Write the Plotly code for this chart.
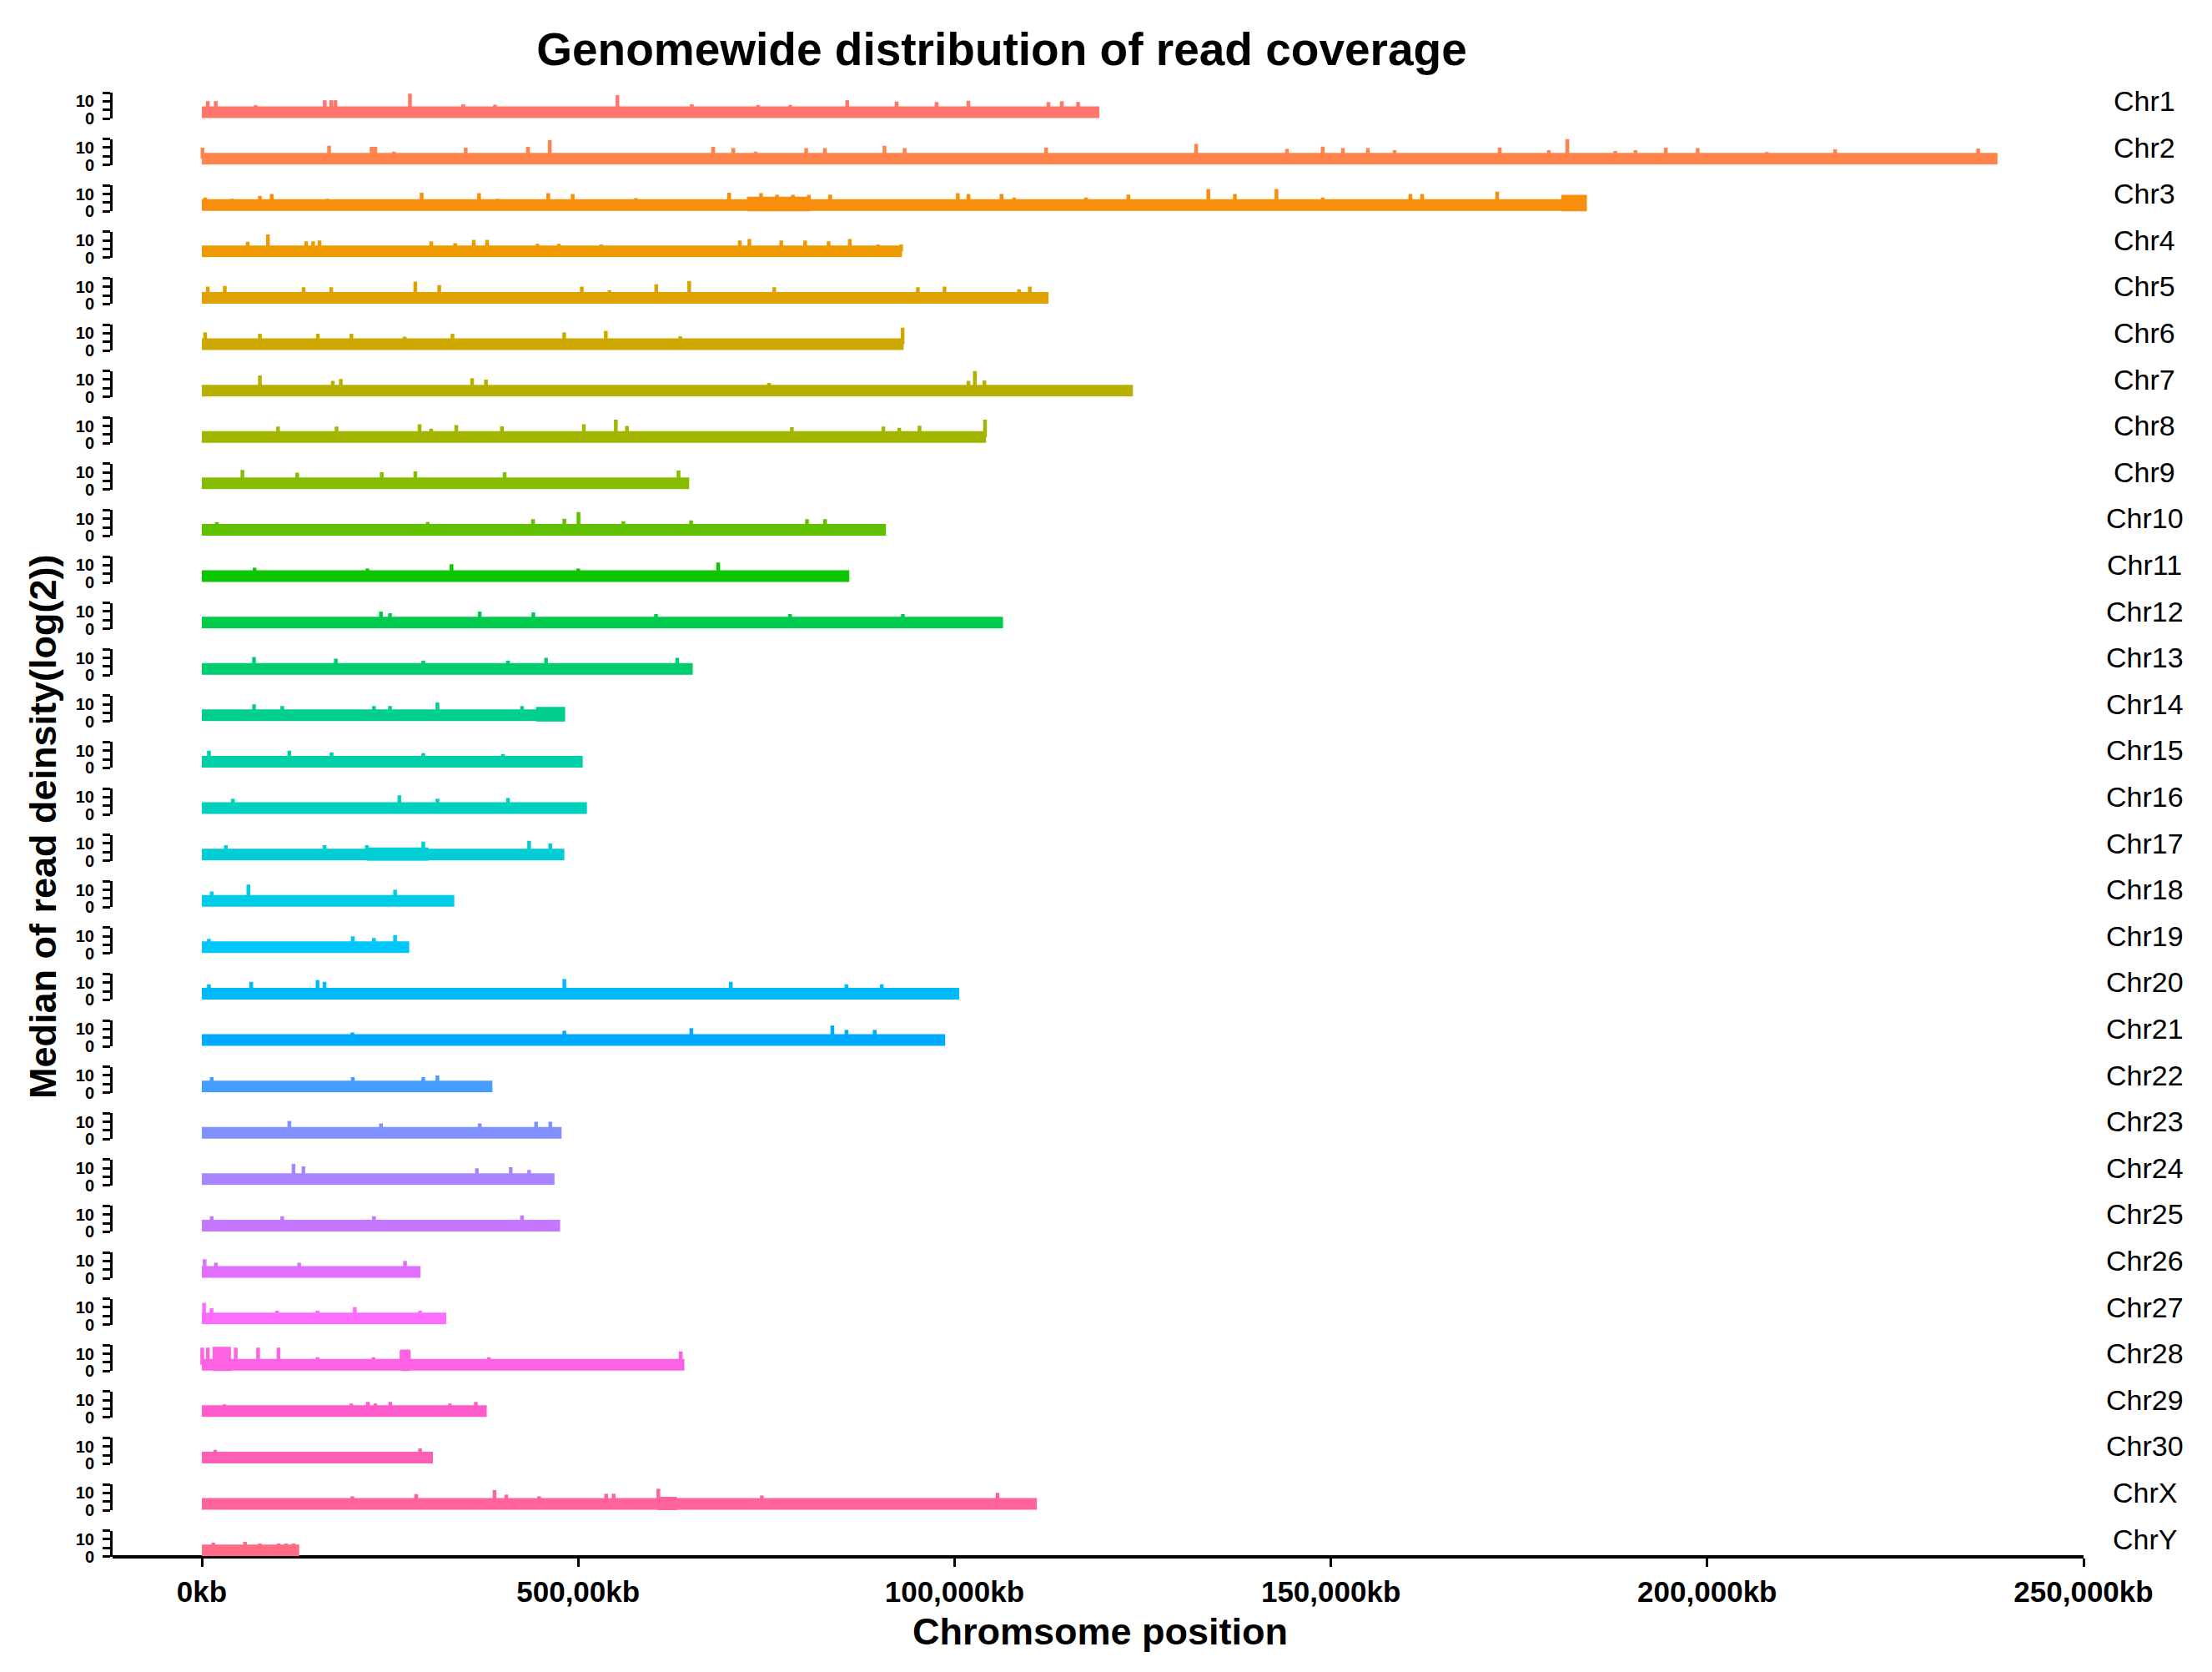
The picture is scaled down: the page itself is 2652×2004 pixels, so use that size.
import math
import colorsys
import plotly.graph_objects as go

# ---------------- data ----------------
chromosomes = ["Chr1", "Chr2", "Chr3", "Chr4", "Chr5", "Chr6", "Chr7", "Chr8", "Chr9", "Chr10",
               "Chr11", "Chr12", "Chr13", "Chr14", "Chr15", "Chr16", "Chr17", "Chr18", "Chr19", "Chr20",
               "Chr21", "Chr22", "Chr23", "Chr24", "Chr25", "Chr26", "Chr27", "Chr28", "Chr29", "Chr30",
               "ChrX", "ChrY"]

lengths_kb = [119240, 238560, 183900, 93020, 112480, 93230, 123700, 104190, 64750, 90890,
              86020, 106440, 65220, 48160, 50600, 51160, 48160, 33540, 27550, 100630,
              98760, 38600, 47790, 46850, 47600, 29050, 32470, 64110, 37850, 30700,
              110940, 12930]

band_level = 3.6  # typical median log2 read density

spike_kb = [
    [790, 1850, 7150, 16330, 17190, 17750, 27650, 34720, 38950, 55210, 65100, 73900, 78180, 85740, 92310, 97620, 101840, 112480, 114250, 116410],
    [90, 16900, 22560, 23050, 25520, 35060, 43330, 46230, 67930, 70610, 73580, 80290, 82770, 90690, 93370, 112170, 132100, 144170, 148910, 151600, 154920, 158470, 172430, 178950, 181420, 187790, 190470, 194490, 198740, 207920, 217000, 236000],
    [440, 3970, 7710, 9280, 16690, 29200, 36830, 39300, 46020, 49270, 57680, 70050, 74290, 76410, 78530, 80650, 83480, 100440, 101850, 106240, 107930, 117460, 123100, 133720, 137250, 142770, 148910, 160570, 162120, 172100],
    [6090, 8780, 13860, 14780, 15630, 30470, 33650, 36130, 37900, 44600, 47430, 53080, 71470, 72740, 76980, 80150, 83270, 86090, 89840, 92900],
    [790, 3050, 13510, 17190, 28360, 31540, 50480, 54150, 60370, 64750, 76050, 95130, 98670, 108560, 110000],
    [440, 7710, 15410, 19870, 26940, 33300, 48140, 53670, 63560, 93100],
    [7710, 17400, 18460, 35910, 37750, 75350, 101850, 102700, 103970],
    [10120, 17900, 28920, 30470, 33800, 39870, 50750, 55000, 56480, 78390, 90540, 92660, 95350, 104050],
    [5390, 12670, 23900, 28360, 40230, 63330],
    [2000, 30000, 44000, 48160, 50040, 56000, 65000, 80400, 82800],
    [7000, 22000, 33170, 50000, 68590],
    [23800, 25000, 36920, 44040, 60340, 78150, 93140],
    [6930, 17800, 29420, 40670, 45730, 63150],
    [6930, 10680, 22860, 25000, 31300, 42540],
    [940, 11620, 17240, 29420, 40000],
    [4120, 26240, 31300, 40670],
    [3190, 16300, 21930, 29420, 43480, 46290],
    [1310, 6180, 25670],
    [940, 20050, 22860, 25670],
    [940, 6560, 15370, 16300, 48160, 70280, 85640, 90330],
    [20000, 48160, 65030, 83770, 85640, 89390],
    [1310, 20050, 29420, 31300],
    [11620, 23800, 36920, 44410, 46290],
    [12180, 13490, 36540, 41040, 43480],
    [1310, 10680, 22860, 42540],
    [370, 1870, 12930, 26990],
    [290, 1290, 10000, 15380, 20320, 28990],
    [50, 790, 4500, 7470, 10180, 15380, 22800, 26520, 27500, 38140, 63620],
    [3000, 19840, 22060, 23050, 25030, 32950, 36400],
    [1770, 28990],
    [20000, 28480, 38880, 40450, 44810, 53720, 54710, 60650, 74400, 105700],
    [1530, 5730, 7710, 10180, 11180, 12170],
]

spike_height = [
    [10.1, 10.1, 7.7, 10.6, 10.6, 10.6, 14.4, 8.2, 8.0, 13.5, 8.2, 7.8, 7.8, 10.6, 9.8, 9.5, 10.3, 9.5, 10.0, 9.6],
    [10.0, 11.0, 10.5, 10.5, 7.7, 10.0, 10.5, 14.5, 10.5, 9.7, 7.7, 9.7, 9.7, 11.0, 9.7, 10.0, 12.2, 9.3, 10.6, 9.7, 9.7, 8.5, 10.0, 8.5, 15.0, 8.0, 8.5, 10.0, 9.7, 7.4, 9.0, 9.5],
    [8.0, 7.2, 8.9, 10.0, 7.2, 10.8, 10.5, 7.2, 10.5, 10.0, 7.6, 10.8, 10.5, 9.5, 9.5, 9.5, 9.7, 10.5, 10.0, 10.0, 8.0, 8.0, 9.7, 12.9, 10.0, 12.9, 8.0, 10.0, 10.0, 11.3],
    [9.2, 13.5, 9.5, 9.5, 10.0, 9.5, 8.4, 10.3, 10.3, 8.0, 8.0, 7.6, 10.0, 10.8, 10.0, 10.0, 9.5, 10.8, 7.6, 7.6],
    [10.1, 10.5, 9.7, 9.7, 13.0, 11.0, 10.1, 8.0, 11.4, 13.4, 9.7, 9.7, 10.1, 8.5, 10.1],
    [10.5, 9.7, 9.7, 9.7, 8.0, 9.7, 10.5, 11.3, 8.2, 13.2],
    [12.4, 9.2, 10.3, 10.8, 10.0, 8.0, 9.2, 15.0, 9.5],
    [9.7, 9.7, 11.0, 8.5, 10.5, 9.8, 11.0, 13.7, 10.0, 9.3, 9.7, 8.9, 10.1, 13.7],
    [11.4, 9.8, 10.1, 10.6, 10.1, 11.0],
    [8.0, 8.0, 9.8, 10.0, 13.9, 8.5, 9.0, 9.8, 9.8],
    [8.5, 8.0, 10.5, 8.0, 11.5],
    [10.0, 9.0, 10.0, 9.5, 8.5, 8.5, 8.5],
    [10.5, 9.5, 8.5, 8.5, 10.0, 10.0],
    [10.0, 9.0, 9.0, 9.0, 11.0, 9.0],
    [10.0, 10.0, 9.0, 8.5, 8.0],
    [9.0, 11.0, 9.0, 9.5],
    [9.0, 9.0, 9.0, 11.0, 11.5, 10.0],
    [9.0, 13.0, 10.0],
    [8.5, 10.0, 9.0, 10.5],
    [9.0, 10.5, 11.5, 10.5, 12.0, 10.5, 9.0, 9.0],
    [8.0, 9.0, 10.5, 12.0, 9.5, 9.5],
    [9.0, 9.0, 9.0, 10.0],
    [10.5, 9.0, 9.0, 10.0, 10.0],
    [12.5, 11.0, 10.0, 10.5, 9.0],
    [9.0, 9.0, 9.0, 9.5],
    [11.0, 9.0, 9.0, 10.0],
    [12.6, 9.5, 8.0, 8.0, 10.1, 8.0],
    [13.5, 13.5, 13.5, 13.5, 13.5, 8.0, 8.0, 12.0, 12.0, 8.0, 11.4],
    [7.5, 8.0, 9.0, 8.0, 9.0, 8.0, 9.0],
    [8.0, 8.9],
    [8.0, 9.3, 11.6, 9.0, 8.0, 9.5, 9.5, 12.4, 8.5, 10.0],
    [8.0, 8.5, 7.5, 7.5, 7.5, 7.5],
]

# raised / thickened stretches of the coverage track
bulge_chrom = ["Chr3", "Chr3", "Chr14", "Chr17", "Chr28", "Chr28", "ChrX"]
bulge_start = [72520, 180720, 44500, 22000, 1530, 26520, 60650]
bulge_end = [80650, 183900, 48160, 30000, 3750, 27500, 63000]
bulge_top = [7.9, 9.0, 8.0, 7.2, 13.5, 12.0, 7.2]

x_tickvals = [0, 50000, 100000, 150000, 200000, 250000]
x_ticktext = ["0kb", "500,00kb", "100,000kb", "150,000kb", "200,000kb", "250,000kb"]
y_tickvals = [0, 5, 10, 15]
y_ticktext = ["0", "", "10", ""]


# ---------------- colours: ggplot2 default hue palette ----------------
def hcl_hex(h, c=100.0, l=65.0):
    hr = math.radians(h)
    u, v = c * math.cos(hr), c * math.sin(hr)
    Xn, Yn, Zn = 95.047, 100.0, 108.883
    Y = Yn * ((l + 16) / 116) ** 3 if l > 8 else Yn * l / 903.3
    t = Xn + 15 * Yn + 3 * Zn
    un, vn = 4 * Xn / t, 9 * Yn / t
    up, vp = u / (13 * l) + un, v / (13 * l) + vn
    X = 9 * Y * up / (4 * vp)
    Z = -X / 3 - 5 * Y + 3 * Y / vp
    X, Y, Z = X / 100, Y / 100, Z / 100
    rgb = [3.240479 * X - 1.537150 * Y - 0.498535 * Z,
           -0.969256 * X + 1.875992 * Y + 0.041556 * Z,
           0.055648 * X - 0.204043 * Y + 1.057311 * Z]
    out = []
    for ch in rgb:
        ch = 1.055 * ch ** (1 / 2.4) - 0.055 if ch > 0.0031308 else 12.92 * ch
        out.append(min(max(ch, 0.0), 1.0))
    # the reference image is slightly brighter than the plain palette
    hh, ss, vv = colorsys.rgb_to_hsv(*out)
    r, g, b = colorsys.hsv_to_rgb(hh, min(1.0, ss * 1.03), min(1.0, vv * 1.08))
    return "#%02X%02X%02X" % (int(round(r * 255)), int(round(g * 255)), int(round(b * 255)))


n = len(chromosomes)
colors = [hcl_hex(15 + 360.0 / n * k) for k in range(n)]

# ---------------- layout geometry (pixels) ----------------
W, H = 2652, 2004
L_PX, R_PX = 135, 2498
TOP_PX, AXIS_PX = 100, 1866
PLOT_W, PLOT_H = R_PX - L_PX, AXIS_PX - TOP_PX
ROW0_ZERO, ROW_PITCH, ROW_H = 142.0, 55.6, 31.0
X0_PX = 242.0
kb_per_px = 250000.0 / (R_PX - X0_PX)
x_min = -(X0_PX - L_PX) * kb_per_px


def pxx(p):
    return (p - L_PX) / PLOT_W


def pxy(p):
    return (AXIS_PX - p) / PLOT_H


FONT = "Liberation Sans, Arial, sans-serif"

fig = go.Figure()
layout = dict(
    width=W, height=H,
    margin=dict(l=L_PX, r=W - R_PX, t=TOP_PX, b=H - AXIS_PX, pad=0),
    paper_bgcolor="white", plot_bgcolor="white",
    showlegend=False,
    font=dict(family=FONT, color="black"),
    xaxis=dict(range=[x_min, 250000], domain=[0, 1], anchor="free", position=0,
               showline=True, linewidth=4, linecolor="black", showgrid=False, zeroline=False,
               ticks="outside", ticklen=10, tickwidth=3, tickcolor="black",
               tickvals=x_tickvals, ticktext=x_ticktext,
               tickfont=dict(size=35, family=FONT, color="black", weight="bold")),
)

annotations = []
for k, name in enumerate(chromosomes):
    ax_id = "" if k == 0 else str(k + 1)
    zero_px = ROW0_ZERO + k * ROW_PITCH
    d0 = max(pxy(zero_px), 0.0)
    d1 = pxy(zero_px - ROW_H)
    layout["yaxis" + ax_id] = dict(
        domain=[d0, d1], range=[0, 15], anchor="x",
        showline=True, linewidth=3, linecolor="black", showgrid=False, zeroline=False,
        ticks="outside", ticklen=9, tickwidth=3, tickcolor="black",
        tickvals=y_tickvals, ticktext=y_ticktext, ticklabelstandoff=6,
        tickfont=dict(size=20, family=FONT, color="black", weight="bold"),
        fixedrange=True,
    )
    col = colors[k]
    yref = "y" + ax_id
    # main coverage track
    fig.add_trace(go.Scatter(x=[0, lengths_kb[k]], y=[band_level, band_level], mode="lines",
                             line=dict(color=col, width=14), xaxis="x", yaxis=yref,
                             hoverinfo="skip"))
    # raised stretches
    for b in range(len(bulge_chrom)):
        if bulge_chrom[b] == name:
            fig.add_trace(go.Scatter(
                x=[bulge_start[b], bulge_end[b], bulge_end[b], bulge_start[b], bulge_start[b]],
                y=[0.1, 0.1, bulge_top[b], bulge_top[b], 0.1],
                mode="lines", fill="toself", fillcolor=col, line=dict(color=col, width=2),
                xaxis="x", yaxis=yref, hoverinfo="skip"))
    # spikes
    xs, ys = [], []
    for p, h in zip(spike_kb[k], spike_height[k]):
        xs += [p, p, None]
        ys += [band_level, h, None]
    fig.add_trace(go.Scatter(x=xs, y=ys, mode="lines", line=dict(color=col, width=4.5),
                             xaxis="x", yaxis=yref, hoverinfo="skip"))
    annotations.append(dict(text=name, x=pxx(2571), y=pxy(zero_px - 21), xref="paper", yref="paper",
                            xanchor="center", yanchor="middle", showarrow=False,
                            font=dict(size=34, family=FONT, color="black")))

annotations.append(dict(text="Chromsome position", x=pxx(1319), y=pxy(1956), xref="paper", yref="paper",
                        xanchor="center", yanchor="middle", showarrow=False,
                        font=dict(size=45, family=FONT, color="black", weight="bold")))
annotations.append(dict(text="Median of read deinsity(log(2))", x=pxx(51), y=pxy(991), xref="paper",
                        yref="paper", xanchor="center", yanchor="middle", showarrow=False, textangle=-90,
                        font=dict(size=45, family=FONT, color="black", weight="bold")))
layout["annotations"] = annotations
layout["title"] = dict(text="Genomewide distribution of read coverage", x=1201 / W, y=1 - 59 / H,
                       xref="container", yref="container",
                       xanchor="center", yanchor="middle",
                       font=dict(size=55, family=FONT, color="black", weight="bold"))

fig.update_layout(**layout)
fig.write_html("out.html", config={"displayModeBar": False},
               post_script="document.body.style.margin='0';")
